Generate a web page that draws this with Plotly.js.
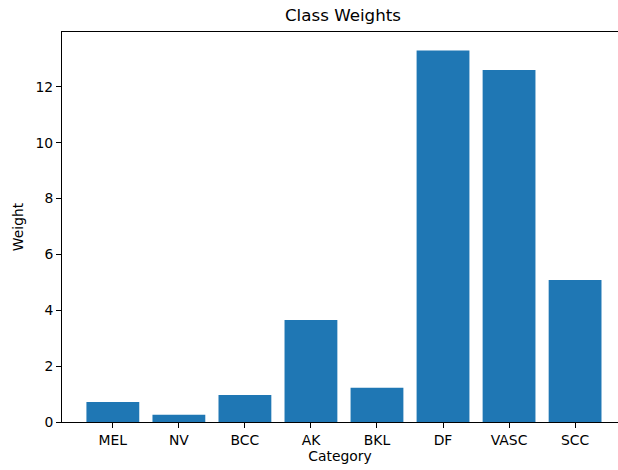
<!DOCTYPE html>
<html>
<head>
<meta charset="utf-8">
<script src="https://cdn.plot.ly/plotly-3.0.1.min.js"></script>
<style>html,body{margin:0;padding:0;background:#fff;}#chart{width:618px;height:470px;}</style>
</head>
<body>
<div id="chart"></div>
<script>
const categories = ["MEL", "NV", "BCC", "AK", "BKL", "DF", "VASC", "SCC"];
const weights = [0.72, 0.26, 0.97, 3.65, 1.23, 13.30, 12.60, 5.08];
const yTicks = [0, 2, 4, 6, 8, 10, 12];

const font = {family: "DejaVu Sans", size: 13.9, color: "#000"};
const trace = {
  type: "bar",
  x: categories.map((c, i) => i),
  y: weights,
  marker: {color: "#1f77b4", line: {width: 0}},
  width: 0.8,
  hoverinfo: "x+y"
};
const layout = {
  width: 618, height: 470,
  margin: {l: 62, r: 0, t: 32, b: 48},
  paper_bgcolor: "#fff", plot_bgcolor: "#fff",
  font: font,
  title: {text: "Class Weights", font: {family: "DejaVu Sans", size: 16.7, color: "#000"}, x: 0.555, xanchor: "center", y: 0.967, yanchor: "middle"},
  showlegend: false,
  xaxis: {
    range: [-0.77, 7.65],
    tickvals: categories.map((c, i) => i),
    ticktext: categories,
    showgrid: false, zeroline: false,
    showline: true, mirror: true, linecolor: "#000", linewidth: 1,
    ticks: "outside", ticklen: 5, tickcolor: "#000", tickwidth: 1,
    tickfont: font,
    title: {text: "Category", font: font, standoff: 4}
  },
  yaxis: {
    range: [0, 13.96],
    tickvals: yTicks,
    ticktext: yTicks.map(String),
    showgrid: false, zeroline: false,
    showline: true, mirror: false, linecolor: "#000", linewidth: 1,
    ticks: "outside", ticklen: 5, tickcolor: "#000", tickwidth: 1,
    tickfont: font,
    title: {text: "Weight", font: font, standoff: 8}
  }
};
Plotly.newPlot("chart", [trace], layout, {displayModeBar: false, staticPlot: true});
</script>
</body>
</html>
